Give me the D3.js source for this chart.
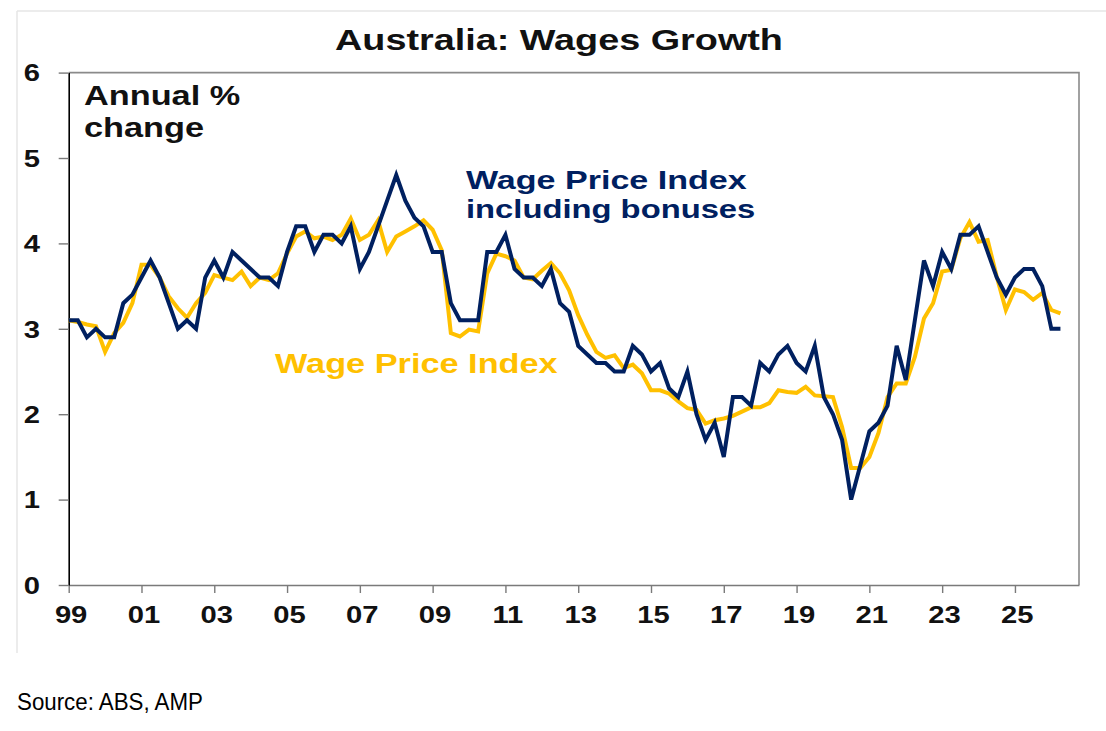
<!DOCTYPE html>
<html>
<head>
<meta charset="utf-8">
<script src="https://cdn.jsdelivr.net/npm/d3@7"></script>
<style>
  body { margin: 0; background: #fff; }
  text { font-family: "Liberation Sans", Arial, sans-serif; }
</style>
</head>
<body>
<script>
// Quarterly series, first point sits on the "99" tick
var startYear = 1999;
var quarterStep = 0.25;

// Wage Price Index, annual % change
var wpi = [
  3.1, 3.08, 3.05, 3.03, 2.73, 2.95, 3.07, 3.3, 3.75, 3.75,
  3.6, 3.38, 3.24, 3.13, 3.3, 3.42, 3.63, 3.6, 3.57, 3.67,
  3.5, 3.6, 3.57, 3.65, 3.88, 4.08, 4.14, 4.06, 4.08, 4.04,
  4.1, 4.29, 4.04, 4.1, 4.27, 3.9, 4.08, 4.14, 4.2, 4.27,
  4.16, 3.92, 2.95, 2.91, 2.99, 2.97, 3.65, 3.88, 3.85, 3.8,
  3.6, 3.58, 3.68, 3.77, 3.65, 3.45, 3.16, 2.93, 2.73, 2.66,
  2.69, 2.54, 2.58, 2.48, 2.28, 2.28, 2.24, 2.15, 2.07, 2.05,
  1.89, 1.93, 1.95, 1.98, 2.03, 2.08, 2.08, 2.13, 2.28, 2.26,
  2.25, 2.32, 2.22, 2.21, 2.2, 1.85, 1.37, 1.37, 1.5, 1.78,
  2.2, 2.36, 2.36, 2.67, 3.12, 3.3, 3.67, 3.69, 4.06, 4.25,
  4.02, 4.04, 3.61, 3.22, 3.46, 3.43, 3.34, 3.42, 3.22, 3.18
];

// Wage Price Index including bonuses, annual % change
var wpiBonus = [
  3.1, 3.1, 2.9, 3.0, 2.9, 2.9, 3.3, 3.4, 3.6, 3.8,
  3.6, 3.3, 3.0, 3.1, 3.0, 3.6, 3.8, 3.6, 3.9, 3.8,
  3.7, 3.6, 3.6, 3.5, 3.9, 4.2, 4.2, 3.9, 4.1, 4.1,
  4.0, 4.2, 3.7, 3.9, 4.2, 4.5, 4.8, 4.5, 4.3, 4.2,
  3.9, 3.9, 3.3, 3.1, 3.1, 3.1, 3.9, 3.9, 4.1, 3.7,
  3.6, 3.6, 3.5, 3.7, 3.3, 3.2, 2.8, 2.7, 2.6, 2.6,
  2.5, 2.5, 2.8, 2.7, 2.5, 2.6, 2.3, 2.2, 2.5, 2.0,
  1.7, 1.9, 1.5, 2.2, 2.2, 2.1, 2.6, 2.5, 2.7, 2.8,
  2.6, 2.5, 2.8, 2.2, 2.0, 1.7, 1.0, 1.4, 1.8, 1.9,
  2.1, 2.8, 2.4, 3.1, 3.8, 3.5, 3.9, 3.7, 4.1, 4.1,
  4.2, 3.9, 3.6, 3.4, 3.6, 3.7, 3.7, 3.5, 3.0, 3.0
];

var yTicks = [0, 1, 2, 3, 4, 5, 6];
var xTicks = [1999, 2001, 2003, 2005, 2007, 2009, 2011, 2013, 2015, 2017, 2019, 2021, 2023, 2025];
var xTickLabels = ["99", "01", "03", "05", "07", "09", "11", "13", "15", "17", "19", "21", "23", "25"];

var navy = "#002060";
var gold = "#FFC000";
var sx = 1.27; // the original picture is stretched sideways

var svg = d3.select("body").append("svg")
    .attr("width", 1106)
    .attr("height", 731);

// Light outer frame (left and top only)
svg.append("line").attr("x1", 17).attr("y1", 11).attr("x2", 17).attr("y2", 653)
    .attr("stroke", "#e6e6e6").attr("stroke-width", 1.5);
svg.append("line").attr("x1", 17).attr("y1", 11).attr("x2", 1106).attr("y2", 11)
    .attr("stroke", "#e6e6e6").attr("stroke-width", 1.5);

var x = d3.scaleLinear().domain([1999, 2026.76]).range([68.7, 1079]);
var y = d3.scaleLinear().domain([0, 6]).range([585, 72.6]);

// Plot frame top and right
svg.append("path")
    .attr("d", "M" + x.range()[0] + "," + y(6) + "H" + x.range()[1] + "V" + y(0))
    .attr("fill", "none").attr("stroke", "#8a8a8a").attr("stroke-width", 1.6);

// X axis
var xAxis = svg.append("g")
    .attr("transform", "translate(0," + y(0) + ")")
    .call(d3.axisBottom(x).tickValues(xTicks)
        .tickFormat(function(d, i) { return xTickLabels[i]; })
        .tickSize(8).tickSizeOuter(0));
xAxis.select(".domain").attr("stroke", "#7a7a7a").attr("stroke-width", 1.6);
xAxis.selectAll(".tick line").attr("stroke", "#7a7a7a").attr("stroke-width", 1.4);
xAxis.selectAll(".tick text")
    .attr("y", 38).attr("dy", null).attr("x", 1.5)
    .attr("transform", "scale(" + sx + ",1)")
    .attr("fill", "#111")
    .style("font-size", "23px").style("font-weight", "bold")
    .style("font-family", "'Liberation Sans', Arial, sans-serif");

// Y axis
var yAxis = svg.append("g")
    .attr("transform", "translate(" + x.range()[0] + ",0)")
    .call(d3.axisLeft(y).tickValues(yTicks).tickFormat(d3.format("d"))
        .tickSize(10).tickSizeOuter(0));
yAxis.select(".domain").attr("stroke", "#000").attr("stroke-width", 1.6);
yAxis.selectAll(".tick line").attr("stroke", "#7a7a7a").attr("stroke-width", 1.4);
yAxis.selectAll(".tick text")
    .attr("x", -28.7 / sx).attr("dy", "0.36em")
    .attr("transform", "scale(" + sx + ",1)")
    .attr("fill", "#111")
    .style("font-size", "23px").style("font-weight", "bold")
    .style("font-family", "'Liberation Sans', Arial, sans-serif");

// Lines
var line = d3.line()
    .x(function(d, i) { return x(startYear + i * quarterStep); })
    .y(function(d) { return y(d); });

svg.append("path").datum(wpi)
    .attr("d", line)
    .attr("fill", "none").attr("stroke", gold).attr("stroke-width", 4);

svg.append("path").datum(wpiBonus)
    .attr("d", line)
    .attr("fill", "none").attr("stroke", navy).attr("stroke-width", 4);

// Text labels
var label = function(txt, px, py, size, color, anchor, weight, scaleX) {
    return svg.append("text")
        .attr("transform", "translate(" + px + "," + py + ") scale(" + scaleX + ",1)")
        .attr("text-anchor", anchor)
        .attr("fill", color)
        .style("font-size", size + "px")
        .style("font-weight", weight)
        .text(txt);
};

label("Australia: Wages Growth", 559, 50, 30, "#111", "middle", "bold", 1.26);
label("Annual %", 84, 105, 27, "#111", "start", "bold", sx);
label("change", 84, 137, 27, "#111", "start", "bold", sx);
label("Wage Price Index", 466, 189, 26, navy, "start", "bold", 1.31);
label("including bonuses", 466, 218, 26, navy, "start", "bold", 1.26);
label("Wage Price Index", 275, 373, 27, gold, "start", "bold", sx);
label("Source: ABS, AMP", 17, 710, 24, "#000", "start", "normal", 0.93);
</script>
</body>
</html>
